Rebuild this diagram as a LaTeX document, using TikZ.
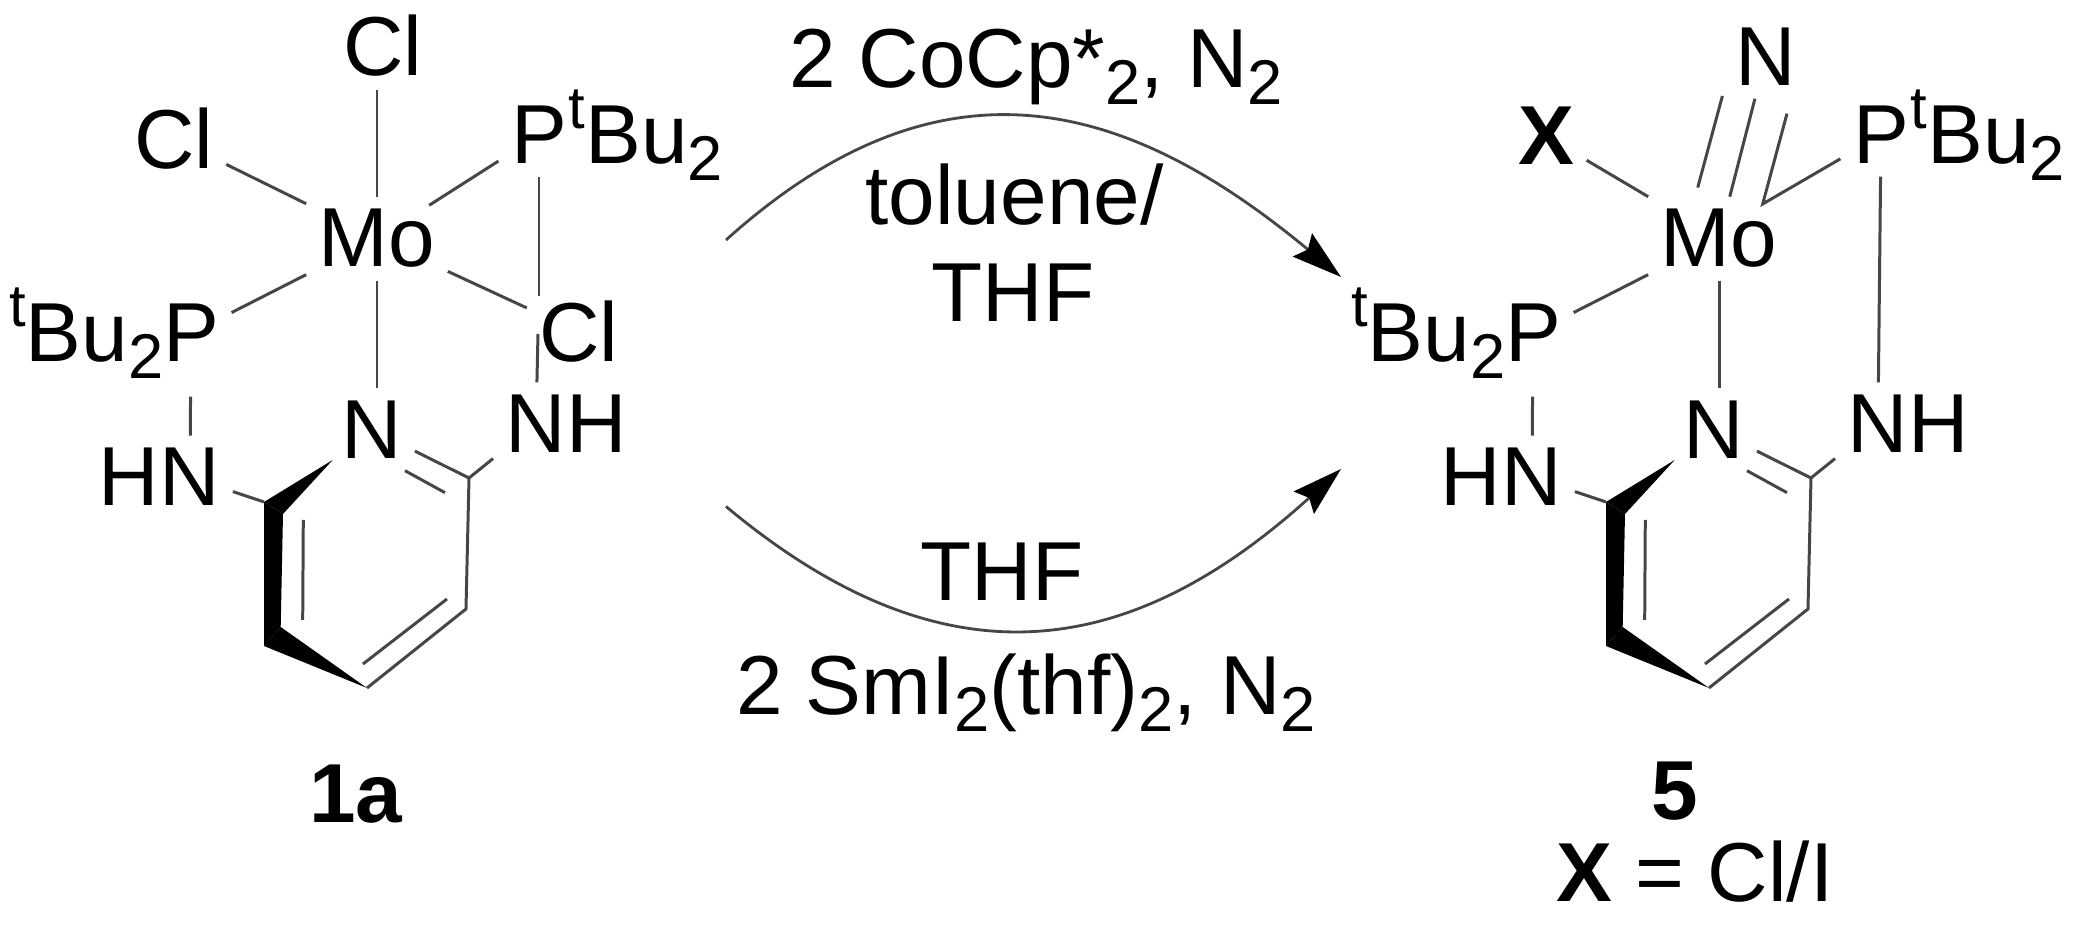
\documentclass[tikz,border=0pt]{standalone}
\usepackage{fontspec}
\setmainfont{Liberation Sans}
\usetikzlibrary{arrows.meta}
\definecolor{bondgray}{RGB}{70,70,70}
\newcommand{\chemfont}{\fontsize{23.8}{28}\selectfont}
\newcommand{\dn}[1]{\raisebox{-0.2em}{\fontsize{18}{21}\selectfont #1}}
\newcommand{\up}[1]{\raisebox{0.42em}{\fontsize{17}{20}\selectfont #1}}
\tikzstyle{atom} = [font=\chemfont, inner sep=1.2mm, anchor=base]
\tikzstyle{label} = [font=\chemfont, inner sep=0pt, anchor=base]
\tikzstyle{bond} = [line width=0.85pt, color=bondgray]
\tikzstyle{arrow} = [line width=0.8pt, color=bondgray, -{Stealth[length=5mm,width=3mm,inset=0.7mm,color=black]}]
% Parts that both complexes share: P, N, P arms and the pyridine ring
\newcommand{\pincer}{
  \node[atom] (mo) at (377,267) {Mo};
  \node[atom] (pa) at (539,164) {P};
  \node[label, anchor=base west] (pat) at (568,164) {\up{t}Bu\dn{2}};
  \node[atom] (pb) at (191,362) {P};
  \node[label, anchor=base east] (pbt) at (164,362) {\up{t}Bu\dn{2}};
  \node[atom] (nr) at (372,458.6) {N};
  \node[atom] (na) at (536,452.7) {N};
  \node[label, anchor=base west] (naH) at (566,452.7) {H};
  \node[atom] (nb) at (190,506) {N};
  \node[label, anchor=base east] (nbH) at (160,506) {H};
  % ring corners
  \coordinate (c2) at (469,478);
  \coordinate (c3) at (466,609);
  \coordinate (c4) at (367,688);
  \coordinate (c5a) at (264,646);
  \coordinate (c5b) at (280.7,627);
  \coordinate (c6a) at (264,502);
  \coordinate (c6b) at (283,514);
  \coordinate (wtip) at (332.7,460);
  \coordinate (in1a) at (405,470.7);
  \coordinate (in1b) at (445,492.7);
  \coordinate (in2a) at (447,599);
  \coordinate (in2b) at (363,664);
  \coordinate (in3a) at (302.7,620);
  \coordinate (in3b) at (303.3,520);
  % wedges
  \fill[black] (wtip) -- (c6a) -- (c6b) -- cycle;
  \fill[black] (c6a) -- (c6b) -- (c5b) -- (c5a) -- cycle;
  \fill[black] (c5a) -- (c5b) -- (c4) -- cycle;
  % ring bonds
  \draw[bond] (nr) -- (c2) -- (c3) -- (c4);
  \draw[bond] (in1a) -- (in1b);
  \draw[bond] (in2a) -- (in2b);
  \draw[bond] (in3a) -- (in3b);
  % arms
  \draw[bond] (na) -- (c2);
  \draw[bond] (nb) -- (c6a);
  \draw[bond, shorten <=2.2mm] (pb) -- (nb);
  \draw[bond] (mo) -- (pb);
  \draw[bond] (mo) -- (nr.north -| mo);
}

\begin{document}
\begin{tikzpicture}[x=0.01cm, y=-0.01cm]
\useasboundingbox (0,0) rectangle (2074,928);

% Left complex
\begin{scope}[name prefix=L-]
\pincer
\node[atom] (cltop) at (383,76) {Cl};
\node[atom] (clleft) at (174,168.6) {Cl};
\node[atom] (clright) at (579,362) {Cl};
\coordinate (gapa) at (539,296);
\coordinate (gapb) at (538,334);
\draw[bond] (mo) -- (cltop.south -| mo);
\draw[bond] (mo) -- (clleft);
\draw[bond] (mo) -- (clright);
\draw[bond, shorten <=-1.6mm] (mo) -- (pa);
\draw[bond] (pa) -- (gapa);
\draw[bond] (gapb) -- (na);
\end{scope}
\node[label] (nameL) at (356,822.5) {\textbf{1a}};

% Right complex
\begin{scope}[shift={(1342,0)}, name prefix=R-]
\pincer
\node[atom] (nt) at (423.6,86) {N};
\node[atom] (xl) at (204,165) {\textbf{X}};
\coordinate (ta) at (380.4,96);
\coordinate (tb) at (355.7,187.6);
\coordinate (tc) at (445,113.6);
\coordinate (td) at (420.7,204);
\draw[bond] (mo) -- (xl);
\draw[bond] (mo) -- (nt);
\draw[bond] (ta) -- (tb);
\draw[bond] (tc) -- (td) -- (pa);
\draw[bond] (pa) -- (na);
\end{scope}
\node[label] (nameR) at (1675,820) {\textbf{5}};
\node[label] (xnote) at (1695,902) {\textbf{X} = Cl/I};

% Reaction arrows
\coordinate (topS) at (726,240);
\coordinate (topE) at (1341,277);
\coordinate (lowS) at (726,506.5);
\coordinate (lowE) at (1341,469);
\draw[arrow] (topS) .. controls (941,46.5) and (1126,98.5) .. (topE);
\draw[arrow] (lowS) .. controls (941,686) and (1126,664) .. (lowE);

% Conditions
\node[label] (topA) at (1036,88) {2 CoCp*\dn{2}, N\dn{2}};
\node[label] (topB) at (1014.5,225) {toluene/};
\node[label] (topC) at (1013,322) {THF};
\node[label] (lowA) at (1002,601) {THF};
\node[label] (lowB) at (1026,715) {2 SmI\dn{2}(thf)\dn{2}, N\dn{2}};
\end{tikzpicture}
\end{document}
